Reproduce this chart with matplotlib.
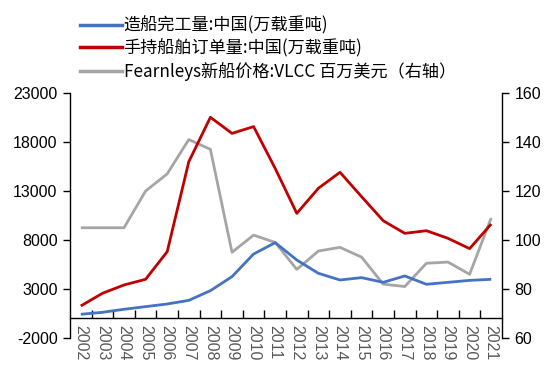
import matplotlib
matplotlib.use("Agg")
import matplotlib.pyplot as plt
from matplotlib.lines import Line2D
import numpy as np

plt.rcParams['font.family'] = ['Noto Sans CJK SC', 'DejaVu Sans']
plt.rcParams['axes.unicode_minus'] = False

years = [str(y) for y in range(2002, 2022)]
completions = [420, 620, 930, 1200, 1470, 1840, 2830, 4260, 6570, 7730,
               5960, 4600, 3920, 4160, 3680, 4330, 3480, 3680, 3880, 3990]
orderbook = [1270, 2560, 3410, 3990, 6810, 15990, 20520, 18880, 19570, 15300,
             10720, 13280, 14910, 12420, 9970, 8680, 8950, 8170, 7120, 9630]
vlcc_price = [105, 105, 105, 120, 127, 141, 137, 95, 102, 99,
              88, 95.5, 97, 93, 82, 81, 90.5, 91, 86, 109]

labels = ['造船完工量:中国(万载重吨)', '手持船舶订单量:中国(万载重吨)',
          'Fearnleys新船价格:VLCC 百万美元（右轴）']
colors = ['#4472C4', '#C00000', '#A5A5A5']

fig = plt.figure(figsize=(5.55, 3.75), dpi=100)
ax = fig.add_axes([70/555, 37/375, 432/555, 245/375])
ax2 = ax.twinx()

x = np.arange(len(years))
ax.plot(x, completions, color=colors[0], lw=2.0, solid_capstyle='butt', zorder=3)
ax.plot(x, orderbook, color=colors[1], lw=2.0, solid_capstyle='butt', zorder=3)
ax2.plot(x, vlcc_price, color=colors[2], lw=2.0, solid_capstyle='butt', zorder=2)
ax.set_zorder(ax2.get_zorder() + 1)
ax.patch.set_visible(False)

ax.set_xlim(-0.5, len(years) - 0.5)
ax.set_ylim(-2000, 23000)
ax.set_yticks(np.arange(-2000, 23001, 5000))
ax2.set_ylim(60, 160)
ax2.set_yticks(np.arange(60, 161, 20))

for a in (ax, ax2):
    a.spines['top'].set_visible(False)
ax.spines['right'].set_visible(False)
ax2.spines['left'].set_visible(False)
ax2.spines['bottom'].set_visible(False)
ax.spines['bottom'].set_position(('data', 0))
for s in ('left', 'bottom'):
    ax.spines[s].set_linewidth(1.0)
ax2.spines['right'].set_linewidth(1.0)

num_font = 'Liberation Sans'
ax.set_xticks(x)
ax.set_xticklabels(years, rotation=270, color='#595959', fontsize=11.5,
                   fontfamily=num_font)
ax.tick_params(axis='x', which='major', length=0, pad=5)
ax.set_xticks(np.arange(0.5, len(years) - 0.5, 1), minor=True)
ax.tick_params(axis='x', which='minor', direction='in', length=6, width=1.0)
ax.tick_params(axis='y', direction='out', length=5, width=1.0, labelsize=11.5, pad=4)
ax2.tick_params(axis='y', direction='out', length=5, width=1.0, labelsize=11.5, pad=4)
for t in ax.get_yticklabels() + ax2.get_yticklabels():
    t.set_fontfamily(num_font)

handles = [Line2D([0], [0], color=c, lw=2.5) for c in colors]
fig.legend(handles, labels, loc='upper left', bbox_to_anchor=(80/555, 1 - 16/375),
           frameon=False, fontsize=12.3, handlelength=2.45, handletextpad=0.1,
           labelspacing=0.25, borderaxespad=0, borderpad=0)

fig.savefig('out.png', dpi=100)
